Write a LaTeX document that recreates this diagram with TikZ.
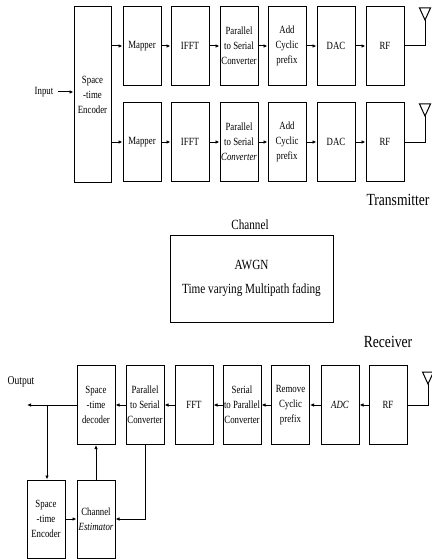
\documentclass[tikz,border=0pt]{standalone}
\usepackage{fontspec}
\setmainfont{Liberation Serif}[FakeStretch=0.8]
\usetikzlibrary{arrows.meta, positioning, calc}
\tikzset{
  blk/.style={draw, line width=1pt, minimum width=38pt, minimum height=79pt, inner sep=1pt, align=center, font=\fontsize{11}{15}\selectfont},
  lbl/.style={inner sep=0pt, font=\fontsize{17}{20}\selectfont},
  arr/.style={-{Latex[length=4pt,width=3.5pt]}, line width=1pt},
  wire/.style={line width=1pt}
}
% antenna: inverted triangle hanging on its apex
\newcommand{\antenna}[1]{%
  \draw[wire] (#1) -- ++(-5.5,-12) -- ++(11,0) -- cycle;
}

\begin{document}
\begin{tikzpicture}[x=1pt, y=-1pt]
  \useasboundingbox (0,0) rectangle (431,559);

  % Transmitter
  \node[inner sep=0pt, font=\fontsize{11}{13}\selectfont] (inp) at (44,92) {Input};
  \node[blk, minimum width=37pt, minimum height=175pt] (enc) at (92.5,94.5) {Space\\-time\\Encoder};
  \draw[arr] ([xshift=5pt]inp.east) -- (inp.east -| enc.west);

  \node[blk] (map1) at (142,46) {Mapper};
  \node[blk] (ifft1) at (190,46) {IFFT};
  \node[blk] (ps1) at (239,46) {Parallel\\to Serial\\Converter};
  \node[blk] (cp1) at (287,46) {Add\\Cyclic\\prefix};
  \node[blk] (dac1) at (336,46) {DAC};
  \node[blk] (rf1) at (385,46) {RF};

  \node[blk] (map2) at (142,142) {Mapper};
  \node[blk] (ifft2) at (190,142) {IFFT};
  \node[blk] (ps2) at (239,142) {Parallel\\to Serial\\\textit{Converter}};
  \node[blk] (cp2) at (287,142) {Add\\Cyclic\\prefix};
  \node[blk] (dac2) at (336,142) {DAC};
  \node[blk] (rf2) at (385,142) {RF};

  \draw[arr] (map1.west -| enc.east) -- (map1.west);
  \draw[arr] (map2.west -| enc.east) -- (map2.west);
  \foreach \a/\b in {map1/ifft1, ifft1/ps1, ps1/cp1, cp1/dac1, dac1/rf1,
                     map2/ifft2, ifft2/ps2, ps2/cp2, cp2/dac2, dac2/rf2}
    \draw[arr] (\a) -- (\b);

  \coordinate (ant1) at (425,20);
  \coordinate (ant2) at (425,116);
  \draw[wire] (rf1.east) -| (ant1);
  \draw[wire] (rf2.east) -| (ant2);
  \antenna{ant1}
  \antenna{ant2}

  \node[lbl] (tx) at (398,200) {Transmitter};

  % Channel
  \node[inner sep=0pt, font=\fontsize{14}{16}\selectfont] (chlbl) at (250,225) {Channel};
  \node[draw, line width=1pt, minimum width=163pt, minimum height=87pt, align=center,
        font=\fontsize{14}{24}\selectfont] (chan) at (251.5,278.5) {AWGN\\Time varying Multipath fading};

  % Receiver
  \node[lbl] (rx) at (388,342) {Receiver};

  \node[blk] (dec) at (96,405) {Space\\-time\\decoder};
  \node[blk] (ps3) at (145,405) {Parallel\\to Serial\\Converter};
  \node[blk] (fft3) at (194,405) {FFT};
  \node[blk] (sp3) at (242,405) {Serial\\to Parallel\\Converter};
  \node[blk] (cp3) at (290.5,405) {Remove\\Cyclic\\prefix};
  \node[blk] (adc3) at (340,405) {\textit{ADC}};
  \node[blk] (rf3) at (388,405) {RF};

  \foreach \a/\b in {rf3/adc3, adc3/cp3, cp3/sp3, sp3/fft3, fft3/ps3, ps3/dec}
    \draw[arr] (\a) -- (\b);

  \coordinate (ant3) at (428,384);
  \draw[wire] (rf3.east) -| (ant3);
  \antenna{ant3}

  \node[inner sep=0pt, font=\fontsize{12}{14}\selectfont] (outp) at (21,382) {Output};
  \coordinate (out) at (27,405);
  \draw[arr] (dec.west) -- (out);

  \node[blk, minimum height=78pt] (enc2) at (46,519) {Space\\-time\\Encoder};
  \node[blk, minimum height=78pt] (est) at (96,519) {Channel\\\textit{Estimator}};

  \coordinate (br) at (47,405);
  \draw[arr] (br) -- (br |- enc2.north);
  \draw[arr] (enc2.east) -- (est.west);
  \draw[arr] (est.north) -- (dec.south);
  \draw[arr] (ps3.south) |- (est.east);
\end{tikzpicture}
\end{document}
